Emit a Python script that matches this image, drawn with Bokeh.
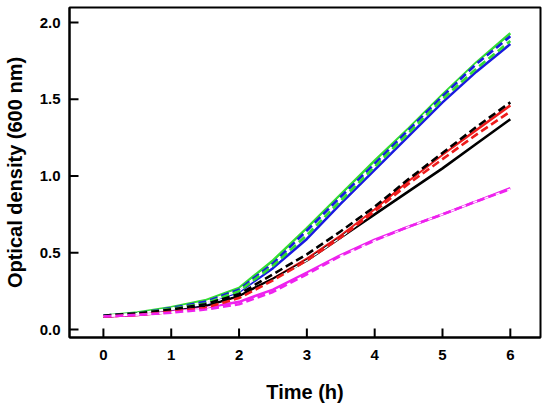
from bokeh.plotting import figure
from bokeh.models import Range1d, FixedTicker, NumeralTickFormatter
from bokeh.embed import file_html
from bokeh.resources import INLINE

time_h = [0, 0.5, 1, 1.5, 2, 2.5, 3, 3.5, 4, 4.5, 5, 5.5, 6]

green_solid = [0.09, 0.11, 0.145, 0.19, 0.27, 0.45, 0.66, 0.88, 1.10, 1.31, 1.53, 1.74, 1.93]
blue_dashed = [0.09, 0.105, 0.14, 0.18, 0.26, 0.43, 0.645, 0.865, 1.08, 1.30, 1.52, 1.73, 1.91]
blue_solid = [0.085, 0.10, 0.13, 0.165, 0.245, 0.40, 0.59, 0.82, 1.04, 1.26, 1.48, 1.68, 1.86]
green_dashed = [0.085, 0.105, 0.135, 0.17, 0.25, 0.415, 0.615, 0.84, 1.06, 1.28, 1.50, 1.70, 1.88]
black_dashed = [0.09, 0.105, 0.13, 0.165, 0.23, 0.36, 0.49, 0.64, 0.80, 0.98, 1.15, 1.32, 1.48]
red_solid = [0.085, 0.095, 0.115, 0.145, 0.215, 0.33, 0.46, 0.61, 0.78, 0.97, 1.14, 1.30, 1.46]
red_dashed = [0.085, 0.095, 0.115, 0.14, 0.205, 0.32, 0.45, 0.60, 0.77, 0.95, 1.11, 1.27, 1.42]
black_solid = [0.085, 0.10, 0.12, 0.15, 0.22, 0.33, 0.45, 0.60, 0.75, 0.90, 1.05, 1.21, 1.37]
magenta_solid = [0.085, 0.095, 0.115, 0.14, 0.18, 0.26, 0.37, 0.485, 0.585, 0.67, 0.75, 0.835, 0.92]
magenta_dashed = [0.085, 0.095, 0.11, 0.13, 0.165, 0.245, 0.36, 0.48, 0.58, 0.67, 0.75, 0.835, 0.915]

x_ticks = [0, 1, 2, 3, 4, 5, 6]
y_ticks = [0.0, 0.5, 1.0, 1.5, 2.0]

BLUE = "#1a1ae0"
GREEN = "#33dd33"
RED = "#ee1c1c"
MAGENTA = "#ee22ee"
BLACK = "#000000"

FONT = "Liberation Sans"

X0, X1 = -0.5, 6.445
Y0, Y1 = -0.052, 2.098
FW, FH = 471, 330
TICK_PX = 9
tick_dy = TICK_PX * (Y1 - Y0) / FH
tick_dx = TICK_PX * (X1 - X0) / FW

p = figure(frame_width=FW, frame_height=FH,
           min_border_left=61, min_border_right=2, min_border_top=7, min_border_bottom=66,
           x_range=Range1d(X0, X1), y_range=Range1d(Y0, Y1),
           output_backend="svg", toolbar_location=None)

p.grid.visible = False
p.outline_line_color = "black"
p.outline_line_width = 2
p.background_fill_color = "white"
p.border_fill_color = "white"

LW = 2.6
solids = [(green_solid, GREEN), (blue_solid, BLUE), (red_solid, RED),
          (black_solid, BLACK), (magenta_solid, MAGENTA)]
dashes = [(blue_dashed, BLUE), (green_dashed, GREEN), (black_dashed, BLACK),
          (red_dashed, RED), (magenta_dashed, MAGENTA)]

for ys, c in solids:
    p.line(time_h, ys, line_color=c, line_width=LW)
for ys, c in dashes:
    p.line(time_h, ys, line_color="white", line_width=1.2)
    p.line(time_h, ys, line_color=c, line_width=LW, line_dash="8 4")

# inward tick marks
for xt in x_ticks:
    p.line([xt, xt], [Y0, Y0 + tick_dy], line_color="black", line_width=2)
for yt in y_ticks:
    p.line([X0, X0 + tick_dx], [yt, yt], line_color="black", line_width=2)

for ax in (p.xaxis[0], p.yaxis[0]):
    ax.axis_line_width = 2
    ax.axis_line_color = "black"
    ax.major_tick_in = 0
    ax.major_tick_out = 0
    ax.major_tick_line_color = None
    ax.minor_tick_line_color = None
    ax.major_label_text_font = FONT
    ax.major_label_text_font_style = "bold"
    ax.major_label_text_font_size = "15px"
    ax.major_label_text_color = "black"
    ax.axis_label_text_font = FONT
    ax.axis_label_text_font_style = "bold"
    ax.axis_label_text_font_size = "20px"
    ax.axis_label_text_color = "black"

p.xaxis.ticker = FixedTicker(ticks=x_ticks)
p.yaxis.ticker = FixedTicker(ticks=y_ticks)
p.yaxis.formatter = NumeralTickFormatter(format="0.0")
p.xaxis.axis_label = "Time (h)"
p.yaxis.axis_label = "Optical density (600 nm)"
p.xaxis.major_label_standoff = 12
p.yaxis.major_label_standoff = 9
p.xaxis.axis_label_standoff = 18
p.yaxis.axis_label_standoff = 11

open("out.html", "w").write(file_html(p, INLINE))
